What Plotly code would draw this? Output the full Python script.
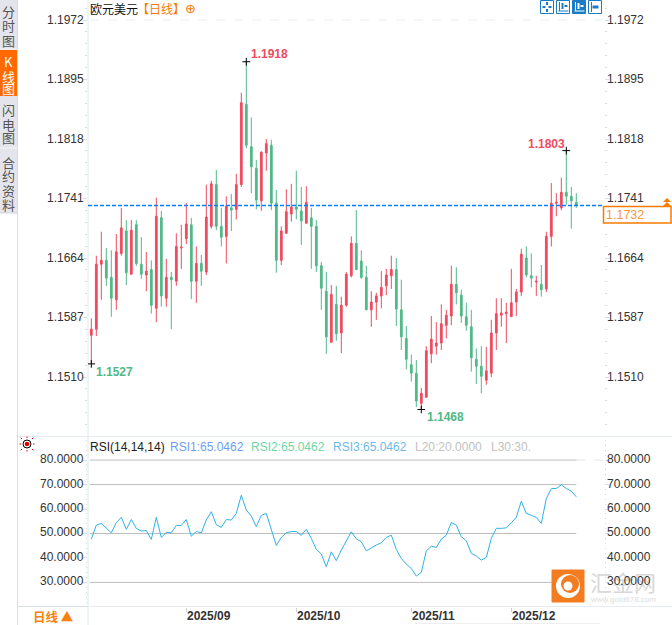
import plotly.graph_objects as go

# EUR/USD daily, one entry per trading day
open_ = [1.1564, 1.1572, 1.1656, 1.1661, 1.1639, 1.1610, 1.1670, 1.1699, 1.1643, 1.1707,
         1.1656, 1.1642, 1.1649, 1.1599, 1.1716, 1.1612, 1.1639, 1.1634, 1.1677, 1.1689,
         1.1707, 1.1634, 1.1657, 1.1646, 1.1705, 1.1759, 1.1705, 1.1692, 1.1729, 1.1727,
         1.1759, 1.1863, 1.1808, 1.1780, 1.1738, 1.1800, 1.1810, 1.1735, 1.1661, 1.1696,
         1.1721, 1.1730, 1.1725, 1.1709, 1.1716, 1.1705, 1.1654, 1.1621, 1.1555, 1.1604,
         1.1567, 1.1603, 1.1641, 1.1683, 1.1660, 1.1639, 1.1597, 1.1607, 1.1615, 1.1628,
         1.1641, 1.1649, 1.1597, 1.1560, 1.1526, 1.1515, 1.1476, 1.1484, 1.1540, 1.1550,
         1.1554, 1.1577, 1.1589, 1.1630, 1.1616, 1.1588, 1.1575, 1.1533, 1.1524, 1.1506,
         1.1515, 1.1567, 1.1590, 1.1592, 1.1588, 1.1607, 1.1620, 1.1664, 1.1641, 1.1633,
         1.1630, 1.1624, 1.1692, 1.1735, 1.1729, 1.1749, 1.1744, 1.1736]
high = [1.1586, 1.1667, 1.1698, 1.1677, 1.1674, 1.1695, 1.1729, 1.1713, 1.1713, 1.1713,
        1.1691, 1.1672, 1.1661, 1.1742, 1.1725, 1.1663, 1.1646, 1.1696, 1.1707, 1.1735,
        1.1716, 1.1679, 1.1668, 1.1759, 1.1764, 1.1778, 1.1729, 1.1744, 1.1747, 1.1773,
        1.1878, 1.1918, 1.1846, 1.1791, 1.1802, 1.1818, 1.1817, 1.1752, 1.1705, 1.1753,
        1.1760, 1.1777, 1.1756, 1.1757, 1.1729, 1.1713, 1.1659, 1.1646, 1.1629, 1.1628,
        1.1614, 1.1646, 1.1692, 1.1726, 1.1674, 1.1654, 1.1621, 1.1619, 1.1647, 1.1650,
        1.1667, 1.1664, 1.1636, 1.1576, 1.1539, 1.1532, 1.1496, 1.1550, 1.1589, 1.1581,
        1.1604, 1.1597, 1.1654, 1.1652, 1.1623, 1.1606, 1.1597, 1.1547, 1.1550, 1.1549,
        1.1584, 1.1612, 1.1612, 1.1606, 1.1650, 1.1624, 1.1676, 1.1679, 1.1670, 1.1641,
        1.1655, 1.1698, 1.1761, 1.1748, 1.1768, 1.1803, 1.1756, 1.1748]
low = [1.1527, 1.1563, 1.1610, 1.1628, 1.1588, 1.1597, 1.1667, 1.1629, 1.1643, 1.1654,
       1.1637, 1.1621, 1.1592, 1.1581, 1.1601, 1.1601, 1.1572, 1.1628, 1.1650, 1.1682,
       1.1611, 1.1606, 1.1628, 1.1642, 1.1702, 1.1700, 1.1679, 1.1657, 1.1699, 1.1714,
       1.1756, 1.1806, 1.1748, 1.1727, 1.1725, 1.1777, 1.1726, 1.1645, 1.1655, 1.1696,
       1.1711, 1.1714, 1.1681, 1.1709, 1.1650, 1.1646, 1.1597, 1.1540, 1.1555, 1.1557,
       1.1541, 1.1601, 1.1639, 1.1649, 1.1637, 1.1597, 1.1575, 1.1584, 1.1599, 1.1616,
       1.1624, 1.1576, 1.1545, 1.1520, 1.1504, 1.1471, 1.1468, 1.1483, 1.1528, 1.1539,
       1.1545, 1.1560, 1.1577, 1.1604, 1.1580, 1.1570, 1.1517, 1.1501, 1.1489, 1.1500,
       1.1510, 1.1545, 1.1575, 1.1554, 1.1588, 1.1589, 1.1615, 1.1639, 1.1626, 1.1615,
       1.1614, 1.1620, 1.1679, 1.1718, 1.1726, 1.1733, 1.1702, 1.1729]
close = [1.1572, 1.1656, 1.1661, 1.1638, 1.1612, 1.1672, 1.1703, 1.1645, 1.1700, 1.1657,
         1.1643, 1.1647, 1.1603, 1.1718, 1.1615, 1.1639, 1.1636, 1.1679, 1.1678, 1.1708,
         1.1634, 1.1657, 1.1647, 1.1717, 1.1760, 1.1705, 1.1691, 1.1731, 1.1726, 1.1759,
         1.1865, 1.1810, 1.1782, 1.1739, 1.1801, 1.1812, 1.1735, 1.1661, 1.1699, 1.1724,
         1.1730, 1.1727, 1.1712, 1.1736, 1.1705, 1.1654, 1.1625, 1.1562, 1.1617, 1.1566,
         1.1603, 1.1643, 1.1683, 1.1649, 1.1639, 1.1597, 1.1607, 1.1615, 1.1626, 1.1642,
         1.1649, 1.1598, 1.1562, 1.1533, 1.1515, 1.1479, 1.1489, 1.1544, 1.1559, 1.1554,
         1.1579, 1.1590, 1.1630, 1.1619, 1.1589, 1.1577, 1.1535, 1.1524, 1.1511, 1.1518,
         1.1567, 1.1592, 1.1593, 1.1594, 1.1606, 1.1620, 1.1669, 1.1642, 1.1638, 1.1634,
         1.1623, 1.1692, 1.1735, 1.1736, 1.1749, 1.1744, 1.1738, 1.1732]
rsi = [47.6, 53.4, 54.1, 52.0, 50.3, 54.4, 56.6, 51.7, 55.7, 52.1,
       51.0, 51.2, 47.6, 56.6, 48.4, 50.4, 50.3, 53.3, 53.3, 55.7,
       48.9, 50.8, 50.3, 55.5, 58.9, 53.6, 52.5, 55.7, 55.5, 58.2,
       65.6, 59.6, 57.1, 52.8, 57.4, 58.2, 51.4, 45.1, 48.4, 50.3,
       50.8, 50.8, 49.2, 51.7, 48.0, 43.5, 41.6, 36.4, 42.5, 38.9,
       43.2, 46.9, 50.7, 47.8, 46.6, 42.9, 44.2, 45.3, 46.2, 48.4,
       49.3, 43.5, 39.8, 37.5, 35.7, 32.6, 34.1, 42.9, 44.8, 44.3,
       47.7, 49.3, 54.5, 53.4, 48.7, 47.0, 41.9, 40.8, 39.1, 40.2,
       48.0, 52.1, 52.1, 52.3, 54.4, 56.6, 63.2, 58.2, 57.4, 56.6,
       54.1, 64.3, 68.3, 68.4, 69.9, 68.4, 67.3, 65.0]
days = list(range(len(close)))

price_ticks = [1.1972, 1.1895, 1.1818, 1.1741, 1.1664, 1.1587, 1.1510]
rsi_ticks = [80, 70, 60, 50, 40, 30]
rsi_levels = [80, 70, 50, 30, 20]
month_days = [19, 41, 64, 84]
month_labels = ['2025/09', '2025/10', '2025/11', '2025/12']
last_price = 1.1732
extremes = [(31, 1.1918), (95, 1.1803), (0, 1.1527), (66, 1.1468)]
side_tabs = [('分', 12), ('时', 26), ('图', 40), ('K', 61), ('线', 76), ('图', 89),
             ('闪', 110), ('电', 124), ('图', 137), ('合', 163), ('约', 175), ('资', 190), ('料', 204)]

RED = '#ee4b5f'
GREEN = '#50b887'
ORANGE = '#f57c00'
FONT = 'Liberation Sans'
CJK = 'Noto Sans CJK SC'
W = 672
H = 625
x_range = [-0.66, 102.54]


def px(x):
    return x / W


def py(y):
    return 1 - y / H


def text(x, y, s, color='#333333', size=12, font=FONT, anchor='left', bold=False):
    if bold:
        s = '<b>' + s + '</b>'
    return dict(x=px(x), y=py(y), xref='paper', yref='paper', text=s, showarrow=False,
                xanchor=anchor, yanchor='middle', borderpad=0,
                font=dict(family=font, size=size, color=color))


def rect(x0, y0, x1, y1, fill='rgba(0,0,0,0)', line='rgba(0,0,0,0)', width=1, layer='below'):
    return dict(type='rect', xref='paper', yref='paper', x0=px(x0), x1=px(x1), y0=py(y0), y1=py(y1),
                fillcolor=fill, line=dict(color=line, width=width), layer=layer)


def seg(x0, y0, x1, y1, color='#dde6ec', width=1, dash='solid', layer='below'):
    return dict(type='line', xref='paper', yref='paper', x0=px(x0), x1=px(x1), y0=py(y0), y1=py(y1),
                line=dict(color=color, width=width, dash=dash), layer=layer)


def circle(cx, cy, r, fill='rgba(0,0,0,0)', line='rgba(0,0,0,0)', width=1, layer='above'):
    return dict(type='circle', xref='paper', yref='paper', x0=px(cx - r), x1=px(cx + r),
                y0=py(cy + r), y1=py(cy - r), fillcolor=fill, line=dict(color=line, width=width), layer=layer)


def triangle(cx, top, half, tall, color):
    path = 'M %f %f L %f %f L %f %f Z' % (px(cx), py(top), px(cx + half), py(top + tall), px(cx - half), py(top + tall))
    return dict(type='path', xref='paper', yref='paper', path=path, fillcolor=color,
                line=dict(color=color, width=0), layer='above')


fig = go.Figure()
fig.add_trace(go.Candlestick(x=days, open=open_, high=high, low=low, close=close,
                             xaxis='x', yaxis='y', whiskerwidth=0,
                             increasing=dict(line=dict(color=RED, width=1), fillcolor=RED),
                             decreasing=dict(line=dict(color=GREEN, width=1), fillcolor=GREEN)))
# current price level
fig.add_trace(go.Scatter(x=x_range, y=[last_price, last_price], mode='lines', xaxis='x', yaxis='y',
                         line=dict(color='#0080ff', width=1.6, dash='4px,2px')))
fig.add_trace(go.Scatter(x=[e[0] for e in extremes], y=[e[1] for e in extremes], mode='markers',
                         xaxis='x', yaxis='y',
                         marker=dict(symbol='cross-thin', size=5.5, line=dict(color='black', width=1))))
fig.add_trace(go.Scatter(x=days, y=rsi, mode='lines', xaxis='x2', yaxis='y2',
                         line=dict(color='#2fb1e6', width=1)))

shapes = [
    rect(0, 0, 17, 213, fill='#e4e5ec'),
    rect(0, 50, 17, 96, fill='#ff6a00'),
    seg(0, 49, 17, 49, '#f4f4f6'),
    seg(0, 148, 17, 148, '#f4f4f6'),
    seg(0, 213, 17, 213, '#cfd3dc'),
    seg(17.5, 0, 17.5, 625, '#d8dde6'),
    seg(88, 0, 88, 625, '#dde8ee'),
    seg(18, 436.5, 672, 436.5, '#e6ebf0'),
    seg(18, 606.5, 88, 606.5, '#d8dde6'),
    seg(576, 606.5, 672, 606.5, '#e6ebf0'),
    seg(415, 623.5, 600, 623.5, '#eeeeee'),
    seg(90, 20, 604, 20, '#e6eeee', dash='dash'),
    seg(576, 460, 604, 460, '#e6e6e6', dash='dash'),
    rect(603.5, 206.5, 671, 223, fill='white', line=ORANGE, width=1.5, layer='above'),
    triangle(667, 198, 4, 4, ORANGE),
    triangle(667, 202, 4, 4, ORANGE),
    # sun icon
    circle(27, 444, 4, fill='white', line='black', width=1),
    circle(27, 444, 2.3, fill='#e00000'),
]
for lvl in rsi_levels:
    shapes.append(dict(type='line', xref='x2', yref='y2', x0=-0.3, x1=97, y0=lvl, y1=lvl,
                       line=dict(color='#bdbdbd', width=1), layer='below'))
for dx, dy in [(-6, 0), (6, 0), (0, -6), (0, 6), (-5, -5), (5, -5), (-5, 5), (5, 5)]:
    shapes.append(seg(27 + dx, 444 + dy, 27 + dx * 1.25, 444 + dy * 1.25, '#e00000', layer='above'))

# toolbar icons
for i, x0 in enumerate([540.5, 556.5, 572.5, 588.5]):
    solid = i == 2
    ink = 'white' if solid else '#1a7cc6'
    shapes.append(rect(x0, 0.5, x0 + 13, 13.5, fill='#1a7cc6' if solid else 'white', line='#1a7cc6', layer='above'))
    if i == 0:
        shapes += [seg(x0 + 2, 7, x0 + 5, 7, ink, 2, layer='above'), seg(x0 + 8, 7, x0 + 11, 7, ink, 2, layer='above'),
                   seg(x0 + 6.5, 2, x0 + 6.5, 5, ink, 2, layer='above'), seg(x0 + 6.5, 9, x0 + 6.5, 12, ink, 2, layer='above')]
    elif i == 3:
        shapes += [seg(x0 + 3, 2, x0 + 3, 12, ink, 1, layer='above'), seg(x0 + 4, 7, x0 + 10, 7, ink, 3, layer='above')]
    else:
        shapes += [seg(x0 + 3, 2, x0 + 3, 11, ink, 1, layer='above'), seg(x0 + 2, 11, x0 + 12, 11, ink, 1, layer='above'),
                   seg(x0 + 6, 3, x0 + 6, 9, ink, 2, layer='above'), seg(x0 + 8, 6, x0 + 11, 6, ink, 2, layer='above')]

# logo mark
shapes += [
    dict(type='rect', xref='paper', yref='paper', x0=px(552), x1=px(584), y0=py(602), y1=py(570),
         fillcolor='#f47c20', line=dict(color='#f47c20', width=1), layer='above'),
    circle(568, 586, 12, fill='white'),
    circle(570, 584, 9, fill='#f47c20'),
    circle(568, 586, 4.5, fill='white'),
]

annotations = [
    text(89, 8, '欧元美元', '#111111', 12, CJK),
    text(136, 8, '【日线】', ORANGE, 12, CJK),
    text(190, 9, '⊕', ORANGE, 13, 'DejaVu Sans', 'center'),
    text(89, 447, 'RSI(14,14,14)', '#222222', 12, FONT),
    text(169, 447, 'RSI1:65.0462', '#6d9ef5', 12, FONT),
    text(250, 447, 'RSI2:65.0462', '#6fd6a8', 12, FONT),
    text(332, 447, 'RSI3:65.0462', '#6bbbe8', 12, FONT),
    text(414, 447, 'L20:20.0000', '#c2c2c2', 12, FONT),
    text(490, 447, 'L30:30.', '#c2c2c2', 12, FONT),
    text(32, 616, '日线 ▲', '#f7820f', 12.5, CJK, bold=True),
    text(605, 215, '1.1732', '#f59a3c', 12.5, FONT),
    text(250, 54, '1.1918', RED, 12, FONT, bold=True),
    text(527, 144, '1.1803', RED, 12, FONT, bold=True),
    text(95, 372, '1.1527', '#50b887', 12, FONT, bold=True),
    text(426, 417, '1.1468', '#50b887', 12, FONT, bold=True),
    text(623, 581, '汇金网', '#d8d8d8', 22, CJK, 'center'),
    text(623, 599, 'www.gold678.com', '#dddddd', 8, FONT, 'center'),
]
for s, y in side_tabs:
    color = 'white' if 50 < y < 96 else '#555555'
    annotations.append(text(8.5, y, s, color, 13, CJK, 'center'))
for d, lab in zip(month_days, month_labels):
    annotations.append(dict(x=d, y=py(616), xref='x2', yref='paper', text='<b>' + lab + '</b>',
                            showarrow=False, xanchor='left', yanchor='middle', xshift=0, borderpad=0,
                            font=dict(family=FONT, size=12, color='#333333')))
for yref, ticks, shift in [('y', price_ticks, 0.5), ('y2', rsi_ticks, 1)]:
    for t in ticks:
        for x, anchor in [(606, 'left'), (85, 'right')]:
            annotations.append(dict(x=px(x), y=t, xref='paper', yref=yref, text='%.4f' % t, showarrow=False,
                                    xanchor=anchor, yanchor='middle', yshift=shift, borderpad=0,
                                    font=dict(family=FONT, size=12, color='#333333')))

fig.update_layout(
    width=W, height=H, autosize=False, showlegend=False, hovermode=False,
    margin=dict(l=0, r=0, t=0, b=0),
    paper_bgcolor='white', plot_bgcolor='white',
    boxgap=0.5,
    xaxis=dict(domain=[px(88), px(604)], range=x_range, anchor='y', showgrid=False, zeroline=False,
               showticklabels=False, ticks='', rangeslider=dict(visible=False)),
    yaxis=dict(domain=[py(436), 1], range=[1.14337, 1.19979], anchor='x', showgrid=False, zeroline=False,
               tickvals=price_ticks, showticklabels=False, ticks='outside', ticklen=4, mirror='ticks',
               tickcolor='#cfe0ea',
               minor=dict(dtick=0.00154, tick0=1.1510, ticks='outside', ticklen=2, tickcolor='#d5dadd')),
    xaxis2=dict(domain=[px(88), px(604)], range=x_range, anchor='y2', showgrid=False, zeroline=False,
                tickvals=month_days, showticklabels=False, ticks='outside', ticklen=4,
                tickcolor='#d0d0d0'),
    yaxis2=dict(domain=[py(606.5), py(437)], range=[20.16, 89.43], anchor='x2', showgrid=False, zeroline=False,
                tickvals=rsi_ticks, showticklabels=False, ticks='outside', ticklen=4, mirror='ticks',
                tickcolor='#cfe0ea',
                minor=dict(dtick=2, tick0=20, ticks='outside', ticklen=1, tickcolor='#d5dadd')),
    shapes=shapes,
    annotations=annotations,
)

fig.write_html("out.html", config=dict(displayModeBar=False),
               post_script="document.body.style.margin='0';document.body.style.overflow='hidden';")
